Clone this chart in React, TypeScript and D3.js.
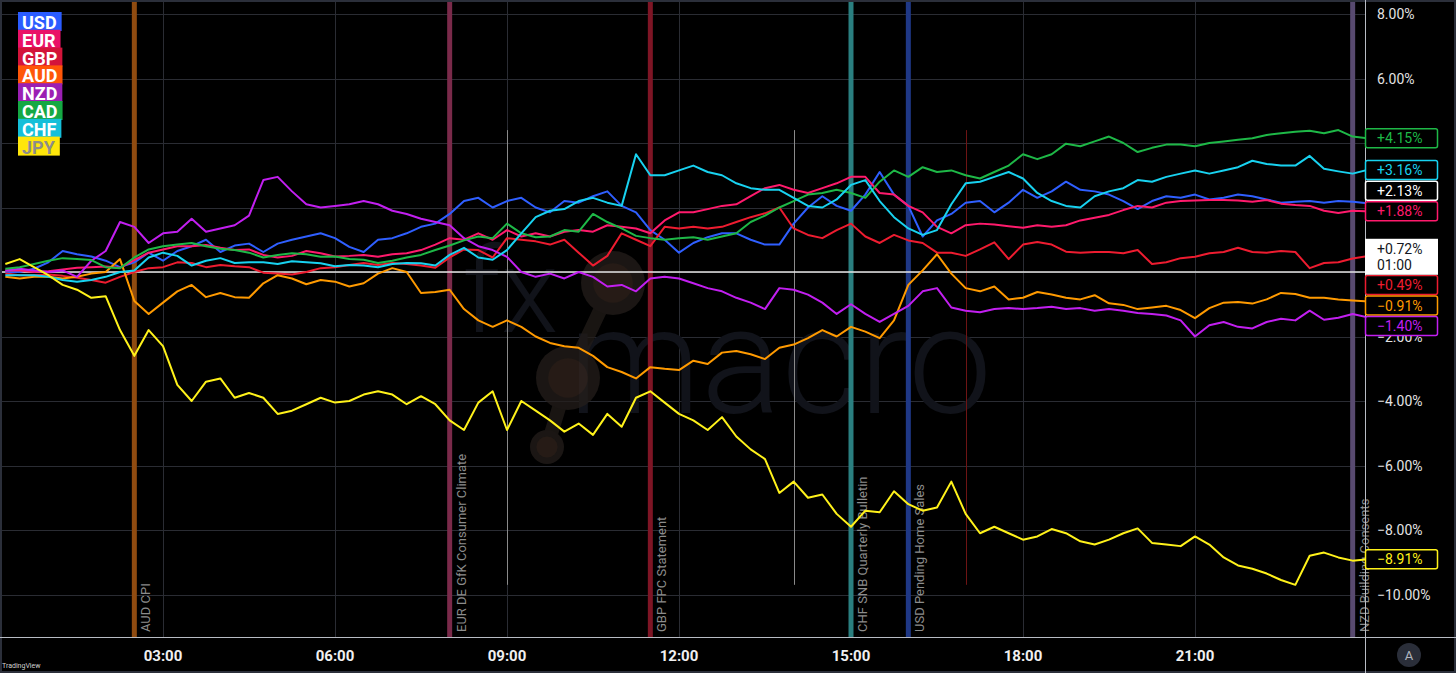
import React, { useEffect, useRef } from 'react';
import * as d3 from 'd3';

const WIDTH = 1456;
const HEIGHT = 673;
const FONT = "Roboto, 'Liberation Sans', sans-serif";

// one sample every 15 minutes, 00:15 .. 24:00
const hours = d3.range(1, 97).map((k) => k / 4);

const currencies = ['USD', 'EUR', 'GBP', 'AUD', 'NZD', 'CAD', 'CHF', 'JPY'];

const usd = [
  0.0, 0.0, 0.1, 0.3, 0.65, 0.55, 0.48, 0.35, 0.15, 0.3,
  0.6, 0.35, 0.65, 0.8, 1.0, 0.62, 0.82, 0.88, 0.62, 0.88,
  1.0, 1.1, 1.2, 1.05, 0.78, 0.62, 1.0, 1.05, 1.2, 1.4,
  1.5, 1.8, 2.2, 2.3, 2.0, 2.2, 2.3, 2.0, 1.85, 2.2,
  2.15, 2.35, 2.5, 2.05, 1.85, 1.3, 1.0, 0.6, 0.9, 1.08,
  1.2, 1.2, 1.0, 0.85, 0.85, 1.5, 2.0, 2.35, 2.05, 1.9,
  2.4, 3.1, 2.4, 2.05, 1.1, 1.6, 1.8, 2.15, 2.2, 1.85,
  2.15, 2.55, 2.3, 2.5, 2.8, 2.55, 2.5, 2.4, 2.2, 1.95,
  2.2, 2.35, 2.3, 2.4, 2.25, 2.3, 2.4, 2.35, 2.25, 2.15,
  2.18, 2.2, 2.15, 2.2, 2.18, 2.13,
];

const eur = [
  0.05, 0.05, 0.0, 0.02, 0.08, 0.13, 0.15, 0.17, 0.13, 0.37,
  0.6, 0.7, 0.8, 0.8, 0.84, 0.75, 0.68, 0.7, 0.53, 0.45,
  0.5, 0.65, 0.58, 0.48, 0.5, 0.53, 0.47, 0.55, 0.58, 0.68,
  0.85, 1.05, 1.0, 1.2, 1.0, 1.3, 1.1, 1.2, 1.1, 1.25,
  1.3, 1.25, 1.45, 1.4, 1.35, 1.2, 1.6, 1.85, 1.85, 1.95,
  2.05, 2.1, 2.35, 2.6, 2.7, 2.55, 2.45, 2.6, 2.75, 2.95,
  2.95, 2.45, 2.4, 2.05, 1.85, 1.4, 1.2, 1.45, 1.5, 1.47,
  1.42, 1.37, 1.45, 1.4, 1.45, 1.6, 1.68, 1.77, 1.92, 2.05,
  2.0, 2.15, 2.2, 2.22, 2.23, 2.23, 2.22, 2.18, 2.23, 2.12,
  2.08, 2.05, 1.9, 1.83, 1.9, 1.88,
];

const gbp = [
  -0.05, -0.1, -0.1, -0.08, -0.12, -0.18, -0.25, -0.33, -0.15, 0.0,
  0.12, 0.15, 0.3, 0.28, 0.15, 0.22, 0.18, 0.15, -0.02, -0.05,
  -0.08, 0.0, 0.12, 0.15, 0.22, 0.28, 0.22, 0.28, 0.25, 0.2,
  0.13, 0.45, 0.7, 0.68, 0.45, 1.05, 1.0, 0.95, 0.85, 1.0,
  0.6, 0.2, 0.5, 1.2, 1.0, 0.8, 1.4, 1.35, 1.4, 1.35,
  1.4, 1.55, 1.7, 1.82, 2.0, 1.35, 1.15, 1.05, 1.3, 1.5,
  1.1, 0.9, 1.15, 0.98, 0.9, 0.6, 0.6, 0.5, 0.7, 0.92,
  0.4, 0.85, 0.93, 0.85, 0.63, 0.6, 0.62, 0.62, 0.58, 0.68,
  0.25, 0.3, 0.43, 0.47, 0.58, 0.62, 0.75, 0.62, 0.6, 0.65,
  0.62, 0.12, 0.28, 0.3, 0.42, 0.49,
];

const aud = [
  -0.15, -0.2, -0.15, -0.15, -0.2, -0.15, -0.05, 0.0, 0.4, -0.9,
  -1.3, -0.95, -0.6, -0.4, -0.78, -0.65, -0.78, -0.8, -0.35, -0.1,
  -0.2, -0.38, -0.25, -0.3, -0.45, -0.35, -0.05, 0.12, 0.0, -0.65,
  -0.62, -0.55, -1.15, -1.5, -1.7, -1.5, -1.7, -2.0, -2.2, -2.3,
  -2.35, -2.6, -2.95, -3.1, -3.3, -2.95, -3.0, -3.04, -2.75, -2.85,
  -2.5, -2.45, -2.55, -2.7, -2.35, -2.25, -2.05, -1.8, -2.0, -1.7,
  -1.85, -2.05, -1.5, -0.4, 0.05, 0.55, -0.05, -0.5, -0.6, -0.45,
  -0.85, -0.8, -0.62, -0.7, -0.8, -0.85, -0.72, -0.97, -1.02, -1.15,
  -1.1, -1.05, -1.18, -1.43, -1.12, -0.95, -0.93, -0.98, -0.85, -0.65,
  -0.68, -0.8, -0.8, -0.85, -0.88, -0.91,
];

const nzd = [
  0.05, 0.1, 0.05, 0.0, 0.05, -0.15, 0.35, 0.65, 1.55, 1.4,
  0.9, 1.2, 1.25, 1.65, 1.25, 1.35, 1.45, 1.75, 2.85, 2.95,
  2.5, 2.1, 2.0, 2.05, 2.1, 2.2, 2.1, 1.9, 1.8, 1.65,
  1.55, 1.45, 1.05, 0.8, 0.68, 0.47, 0.0, -0.15, -0.05, -0.2,
  0.0, -0.15, -0.45, -0.4, -0.6, -0.2, -0.15, -0.2, -0.35, -0.5,
  -0.6, -0.8, -0.95, -1.15, -0.5, -0.55, -0.7, -0.95, -1.3, -1.0,
  -1.3, -1.55, -1.3, -1.05, -0.6, -0.5, -1.1, -1.2, -1.25, -1.15,
  -1.12, -1.15, -1.12, -1.08, -1.15, -1.12, -1.2, -1.15, -1.2, -1.27,
  -1.3, -1.35, -1.5, -2.0, -1.65, -1.55, -1.7, -1.75, -1.55, -1.45,
  -1.5, -1.2, -1.48, -1.42, -1.3, -1.4,
];

const cad = [
  0.1, 0.15, 0.25, 0.35, 0.43, 0.4, 0.37, 0.15, 0.12, 0.45,
  0.7, 0.8, 0.85, 0.9, 0.8, 0.72, 0.68, 0.6, 0.45, 0.53,
  0.58, 0.55, 0.47, 0.48, 0.4, 0.38, 0.28, 0.35, 0.45, 0.53,
  0.68, 0.82, 0.98, 1.1, 1.05, 1.5, 1.2, 1.08, 1.1, 1.3,
  1.25, 1.8, 1.55, 1.35, 1.12, 1.05, 1.0, 1.05, 1.08, 1.0,
  1.1, 1.2, 1.55, 1.75, 2.0, 2.2, 2.4, 2.45, 2.55, 2.45,
  2.3, 2.8, 3.15, 2.95, 3.25, 3.1, 3.15, 3.0, 2.9, 3.1,
  3.3, 3.65, 3.5, 3.65, 3.98, 3.9, 4.05, 4.2, 4.0, 3.72,
  3.85, 3.95, 3.95, 3.9, 4.0, 4.05, 4.1, 4.15, 4.25, 4.3,
  4.35, 4.38, 4.3, 4.4, 4.2, 4.15,
];

const chf = [
  -0.1, -0.1, -0.1, -0.15, -0.25, -0.3, -0.25, -0.15, 0.0, 0.05,
  0.45, 0.6, 0.5, 0.2, 0.35, 0.43, 0.28, 0.3, 0.3, 0.25,
  0.33, 0.3, 0.27, 0.18, 0.22, 0.2, 0.15, 0.25, 0.28, 0.27,
  0.2, 0.53, 0.75, 0.45, 0.38, 0.68, 1.2, 1.7, 1.9, 1.95,
  2.2, 2.3, 2.15, 2.05, 3.65, 3.0, 3.0, 3.15, 3.3, 3.1,
  3.0, 2.75, 2.6, 2.55, 2.55, 2.3, 2.05, 2.0, 2.25, 2.7,
  2.85, 2.2, 1.7, 1.35, 1.15, 1.3, 2.1, 2.75, 2.8, 2.95,
  3.1, 2.9, 2.45, 2.2, 2.05, 2.0, 2.35, 2.5, 2.6, 2.85,
  2.8, 2.95, 3.05, 3.15, 3.05, 3.15, 3.25, 3.45, 3.35, 3.3,
  3.3, 3.6, 3.2, 3.12, 3.05, 3.16,
];

const jpy = [
  0.25, 0.4, 0.15, -0.1, -0.4, -0.55, -0.8, -0.75, -1.8, -2.6,
  -1.8, -2.3, -3.5, -4.0, -3.4, -3.3, -3.9, -3.75, -3.9, -4.4,
  -4.3, -4.1, -3.9, -4.05, -4.0, -3.8, -3.7, -3.8, -4.1, -3.85,
  -4.1, -4.6, -4.9, -4.05, -3.7, -4.9, -4.0, -4.3, -4.6, -4.95,
  -4.7, -5.05, -4.4, -4.8, -3.9, -3.7, -4.05, -4.4, -4.6, -4.9,
  -4.5, -5.1, -5.5, -5.8, -6.85, -6.5, -7.0, -6.9, -7.5, -7.9,
  -7.4, -7.45, -6.8, -7.2, -7.4, -7.3, -6.5, -7.5, -8.1, -7.9,
  -8.1, -8.3, -8.2, -7.97, -8.1, -8.35, -8.45, -8.3, -8.1, -7.95,
  -8.4, -8.45, -8.5, -8.2, -8.45, -8.85, -9.1, -9.2, -9.35, -9.55,
  -9.7, -8.8, -8.7, -8.85, -8.95, -8.91,
];

const seriesValues = [usd, eur, gbp, aud, nzd, cad, chf, jpy];

const lineColors = ['#2f5fff', '#ff1a6c', '#ee1c30', '#ff9a00', '#c21ff0', '#1eb847', '#18d2f0', '#fff21a'];
const badgeColors = ['#2a5cff', '#ea1167', '#d3143a', '#ff5608', '#9b1fb3', '#15a843', '#15bfd9', '#ffe60a'];
const priceLabelColors = ['#ffffff', '#ff1a6c', '#ee1c30', '#ff9a00', '#c21ff0', '#1eb847', '#18d2f0', '#fff21a'];

const priceTicks = [8, 6, 4, 2, 0, -2, -4, -6, -8, -10];
const timeTicks = [3, 6, 9, 12, 15, 18, 21];
const timeTickLabels = ['03:00', '06:00', '09:00', '12:00', '15:00', '18:00', '21:00'];

const eventNames = [
  'AUD CPI',
  'EUR DE GfK Consumer Climate',
  'GBP FPC Statement',
  'CHF SNB Quarterly Bulletin',
  'USD Pending Home Sales',
  'NZD Building Consents',
];
const eventHours = [2.5, 8, 11.5, 15, 16, 23.75];
const eventColors = ['#8f4b10', '#7a2a4a', '#7e1525', '#2a7f80', '#1f3886', '#584a70'];

const minorEventHours = [9, 14, 17];
const minorEventColors = ['#8a8a8a', '#8a8a8a', '#6e1414'];
const minorEventSpan = [4.4, -9.7];

const crosshairValue = 0.72;
const crosshairTime = '01:00';

const fmtPct = (v: number) => (v > 0 ? '+' : v < 0 ? '\u2212' : '') + Math.abs(v).toFixed(2) + '%';
const fmtTick = (v: number) => (v < 0 ? '\u2212' : '') + Math.abs(v).toFixed(2) + '%';

export default function App() {
  const ref = useRef<SVGSVGElement>(null);

  useEffect(() => {
    const plot = { left: 2, top: 2, right: 1365, bottom: 637 };

    const svg = d3.select(ref.current);
    svg.selectAll('*').remove();

    const xScale = d3.scaleLinear().domain([0, 24]).range([-9, 1367]);
    const yScale = d3.scaleLinear().domain([-10, 8]).range([594.5, 14]);

    svg.append('rect').attr('width', WIDTH).attr('height', HEIGHT).attr('fill', '#000');

    svg
      .append('defs')
      .append('clipPath')
      .attr('id', 'plot-clip')
      .append('rect')
      .attr('x', plot.left)
      .attr('y', plot.top)
      .attr('width', plot.right - plot.left)
      .attr('height', plot.bottom - plot.top);

    // grid
    const grid = svg.append('g').attr('stroke', '#2a2c33').attr('stroke-width', 1);
    grid
      .selectAll('line.h')
      .data(priceTicks)
      .enter()
      .append('line')
      .attr('x1', plot.left)
      .attr('x2', plot.right)
      .attr('y1', (d) => Math.round(yScale(d)) + 0.5)
      .attr('y2', (d) => Math.round(yScale(d)) + 0.5);
    grid
      .selectAll('line.v')
      .data(timeTicks)
      .enter()
      .append('line')
      .attr('x1', (d) => Math.round(xScale(d)) + 0.5)
      .attr('x2', (d) => Math.round(xScale(d)) + 0.5)
      .attr('y1', plot.top)
      .attr('y2', plot.bottom);

    // watermark
    const wm = svg.append('g').attr('clip-path', 'url(#plot-clip)');
    wm.append('text')
      .attr('x', 462)
      .attr('y', 332)
      .attr('font-family', FONT)
      .attr('font-size', 118)
      .attr('font-weight', 300)
      .attr('fill', '#11131a')
      .text('fx');
    wm.append('text')
      .attr('x', 992)
      .attr('y', 413)
      .attr('text-anchor', 'end')
      .attr('font-family', FONT)
      .attr('font-size', 150)
      .attr('font-weight', 300)
      .attr('fill', '#11131a')
      .text('macro');
    const dots = [
      { cx: 613, cy: 283, r: 32 },
      { cx: 568, cy: 378, r: 32 },
      { cx: 547, cy: 447, r: 17 },
    ];
    const logo = wm.append('g').attr('opacity', 0.75);
    logo
      .append('path')
      .attr('d', 'M613,283 L568,378 L547,447')
      .attr('stroke', '#221c19')
      .attr('stroke-width', 14)
      .attr('fill', 'none');
    logo
      .selectAll('circle.o')
      .data(dots)
      .enter()
      .append('circle')
      .attr('cx', (d) => d.cx)
      .attr('cy', (d) => d.cy)
      .attr('r', (d) => d.r)
      .attr('fill', '#241e1b');
    logo
      .selectAll('circle.i')
      .data(dots)
      .enter()
      .append('circle')
      .attr('cx', (d) => d.cx)
      .attr('cy', (d) => d.cy)
      .attr('r', (d) => d.r * 0.62)
      .attr('fill', '#33251e');

    // minor event markers
    svg
      .append('g')
      .selectAll('line')
      .data(minorEventHours)
      .enter()
      .append('line')
      .attr('x1', (d) => Math.round(xScale(d)) + 0.5)
      .attr('x2', (d) => Math.round(xScale(d)) + 0.5)
      .attr('y1', yScale(minorEventSpan[0]))
      .attr('y2', yScale(minorEventSpan[1]))
      .attr('stroke', (_, i) => minorEventColors[i])
      .attr('stroke-width', 1);

    // event bands
    svg
      .append('g')
      .selectAll('rect')
      .data(eventHours)
      .enter()
      .append('rect')
      .attr('x', (d) => xScale(d) - 2.5)
      .attr('y', plot.top)
      .attr('width', 5)
      .attr('height', plot.bottom - plot.top)
      .attr('fill', (_, i) => eventColors[i]);

    svg
      .append('g')
      .selectAll('text')
      .data(eventHours)
      .enter()
      .append('text')
      .attr('transform', (d) => `translate(${xScale(d) + 16}, 632) rotate(-90)`)
      .attr('font-family', FONT)
      .attr('font-size', 13)
      .attr('fill', '#8c8c8c')
      .text((_, i) => eventNames[i]);

    // zero line
    svg
      .append('line')
      .attr('x1', plot.left)
      .attr('x2', plot.right)
      .attr('y1', yScale(0))
      .attr('y2', yScale(0))
      .attr('stroke', '#e6e6e6')
      .attr('stroke-width', 1.5);

    // series
    const line = d3
      .line<number>()
      .x((_, i) => xScale(hours[i]))
      .y((d) => yScale(d));

    svg
      .append('g')
      .attr('clip-path', 'url(#plot-clip)')
      .selectAll('path')
      .data(seriesValues)
      .enter()
      .append('path')
      .attr('d', (d) => line(d))
      .attr('fill', 'none')
      .attr('stroke', (_, i) => lineColors[i])
      .attr('stroke-width', 2)
      .attr('stroke-linejoin', 'round');

    // frame + axis separators
    svg
      .append('rect')
      .attr('x', 1)
      .attr('y', 1)
      .attr('width', WIDTH - 2)
      .attr('height', HEIGHT - 2)
      .attr('fill', 'none')
      .attr('stroke', '#2b2f3a')
      .attr('stroke-width', 2);
    svg
      .append('line')
      .attr('x1', plot.right + 0.5)
      .attr('x2', plot.right + 0.5)
      .attr('y1', 0)
      .attr('y2', HEIGHT)
      .attr('stroke', '#b8bcc4')
      .attr('stroke-width', 1);
    svg
      .append('line')
      .attr('x1', 0)
      .attr('x2', WIDTH)
      .attr('y1', plot.bottom + 0.5)
      .attr('y2', plot.bottom + 0.5)
      .attr('stroke', '#b8bcc4')
      .attr('stroke-width', 1);

    // last value labels, kept apart around the crosshair label
    const boxH = 20.5;
    const crossTop = yScale(crosshairValue) - 10;
    const crossH = 36;
    const crossMid = crossTop + crossH / 2;
    const items = currencies.map((c, i) => {
      const v = seriesValues[i][seriesValues[i].length - 1];
      return { i, v, y: yScale(v) };
    });
    const above = items.filter((d) => d.y < crossMid - 1).sort((a, b) => b.y - a.y);
    let limitUp = crossTop - boxH / 2;
    above.forEach((d) => {
      d.y = Math.min(d.y, limitUp);
      limitUp = d.y - boxH;
    });
    const below = items.filter((d) => d.y >= crossMid - 1).sort((a, b) => a.y - b.y);
    let limitDown = crossTop + crossH + boxH / 2;
    below.forEach((d) => {
      d.y = Math.max(d.y, limitDown);
      limitDown = d.y + boxH;
    });

    // right price axis: ticks fully under a value tag are hidden, as on the chart
    const covered = (ty: number) =>
      items.some((d) => Math.abs(d.y - ty) < 6) || (ty > crossTop && ty < crossTop + crossH);
    svg
      .append('g')
      .selectAll('text')
      .data(priceTicks.filter((t) => !covered(yScale(t))))
      .enter()
      .append('text')
      .attr('x', 1377)
      .attr('y', (d) => yScale(d))
      .attr('dy', '0.36em')
      .attr('font-family', FONT)
      .attr('font-size', 14)
      .attr('fill', '#e3e3e3')
      .text((d) => fmtTick(d));

    const tags = svg.append('g').selectAll('g').data(items).enter().append('g');
    tags
      .append('rect')
      .attr('x', plot.right + 0.5)
      .attr('y', (d) => d.y - 9.5)
      .attr('width', 72)
      .attr('height', 19)
      .attr('rx', 2)
      .attr('fill', '#000')
      .attr('stroke', (d) => priceLabelColors[d.i])
      .attr('stroke-width', 1.5);
    tags
      .append('text')
      .attr('x', 1377)
      .attr('y', (d) => d.y)
      .attr('dy', '0.36em')
      .attr('font-family', FONT)
      .attr('font-size', 14)
      .attr('fill', (d) => priceLabelColors[d.i])
      .text((d) => fmtPct(d.v));

    const cross = svg.append('g');
    cross
      .append('rect')
      .attr('x', plot.right)
      .attr('y', crossTop)
      .attr('width', 73)
      .attr('height', crossH)
      .attr('fill', '#ffffff');
    cross
      .append('text')
      .attr('x', 1377)
      .attr('y', crossTop + 15)
      .attr('font-family', FONT)
      .attr('font-size', 14)
      .attr('fill', '#131722')
      .text(fmtPct(crosshairValue));
    cross
      .append('text')
      .attr('x', 1377)
      .attr('y', crossTop + 31)
      .attr('font-family', FONT)
      .attr('font-size', 14)
      .attr('fill', '#131722')
      .text(crosshairTime);

    // time axis
    svg
      .append('g')
      .selectAll('text')
      .data(timeTicks)
      .enter()
      .append('text')
      .attr('x', (d) => xScale(d))
      .attr('y', 661)
      .attr('text-anchor', 'middle')
      .attr('font-family', FONT)
      .attr('font-size', 15)
      .attr('font-weight', 700)
      .attr('fill', '#f0f0f0')
      .text((_, i) => timeTickLabels[i]);

    svg
      .append('text')
      .attr('x', 2)
      .attr('y', 668)
      .attr('font-family', FONT)
      .attr('font-size', 7)
      .attr('fill', '#d0d0d0')
      .text('TradingView');

    svg
      .append('circle')
      .attr('cx', 1409)
      .attr('cy', 655)
      .attr('r', 12)
      .attr('fill', '#2a2e39');
    svg
      .append('text')
      .attr('x', 1409)
      .attr('y', 655)
      .attr('dy', '0.36em')
      .attr('text-anchor', 'middle')
      .attr('font-family', FONT)
      .attr('font-size', 13)
      .attr('fill', '#b2b5be')
      .text('A');

    // legend badges
    const legend = svg.append('g');
    currencies.forEach((c, i) => {
      const top = 12 + i * 17.8;
      const g = legend.append('g');
      const r = g.append('rect').attr('x', 18).attr('y', top).attr('height', 19).attr('fill', badgeColors[i]);
      const t = g
        .append('text')
        .attr('x', 22)
        .attr('y', top + 17)
        .attr('font-family', FONT)
        .attr('font-size', 18)
        .attr('font-weight', 700)
        .attr('fill', c === 'JPY' ? '#8c8c8c' : '#ffffff')
        .text(c);
      const len = (t.node() as SVGTextElement).getComputedTextLength();
      r.attr('width', len + 9);
    });
  }, []);

  return (
    <div style={{ position: 'fixed', left: 0, top: 0, width: WIDTH, height: HEIGHT, background: '#000' }}>
      <svg ref={ref} width={WIDTH} height={HEIGHT} style={{ display: 'block' }} />
    </div>
  );
}
